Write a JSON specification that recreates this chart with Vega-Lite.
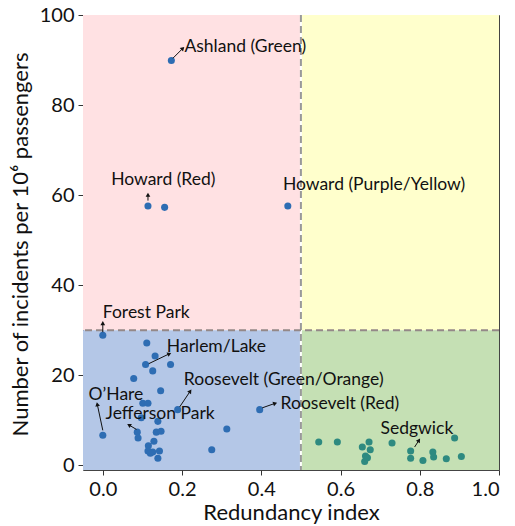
{
  "$schema": "https://vega.github.io/schema/vega-lite/v6.json",
  "width": 416,
  "height": 455,
  "autosize": {"type": "none"},
  "padding": {"left": 83, "top": 15, "right": 16, "bottom": 56},
  "config": {
    "font": "Lato",
    "view": {"stroke": "#444", "strokeWidth": 1},
    "axis": {"grid": false, "domain": false, "tickColor": "#333", "tickSize": 5, "labelColor": "#111", "titleColor": "#111", "labelFont": "Lato", "titleFont": "Lato", "labelFontSize": 20, "titleFontSize": 22, "titleFontWeight": "normal"}
  },
  "resolve": {"scale": {"color": "independent"}},
  "datasets": {
    "regions": [
      {"q": "pink", "x0": -0.05, "x1": 0.5, "y0": 30, "y1": 100},
      {"q": "yellow", "x0": 0.5, "x1": 1.0, "y0": 30, "y1": 100},
      {"q": "blue", "x0": -0.05, "x1": 0.5, "y0": -1, "y1": 30},
      {"q": "green", "x0": 0.5, "x1": 1.0, "y0": -1, "y1": 30}
    ],
    "points": [
      {"x": 0.173, "y": 89.9, "g": "low"},
      {"x": 0.114, "y": 57.6, "g": "low"},
      {"x": 0.156, "y": 57.3, "g": "low"},
      {"x": 0.467, "y": 57.6, "g": "low"},
      {"x": 0.0, "y": 28.9, "g": "low"},
      {"x": 0.111, "y": 27.2, "g": "low"},
      {"x": 0.132, "y": 24.3, "g": "low"},
      {"x": 0.108, "y": 22.4, "g": "low"},
      {"x": 0.171, "y": 22.4, "g": "low"},
      {"x": 0.126, "y": 21.0, "g": "low"},
      {"x": 0.078, "y": 19.3, "g": "low"},
      {"x": 0.146, "y": 16.6, "g": "low"},
      {"x": 0.101, "y": 13.8, "g": "low"},
      {"x": 0.114, "y": 13.8, "g": "low"},
      {"x": 0.189, "y": 12.4, "g": "low"},
      {"x": 0.396, "y": 12.4, "g": "low"},
      {"x": 0.097, "y": 10.6, "g": "low"},
      {"x": 0.139, "y": 9.8, "g": "low"},
      {"x": 0.135, "y": 7.4, "g": "low"},
      {"x": 0.147, "y": 7.6, "g": "low"},
      {"x": 0.0, "y": 6.7, "g": "low"},
      {"x": 0.087, "y": 7.4, "g": "low"},
      {"x": 0.089, "y": 6.1, "g": "low"},
      {"x": 0.313, "y": 8.1, "g": "low"},
      {"x": 0.129, "y": 5.4, "g": "low"},
      {"x": 0.115, "y": 4.4, "g": "low"},
      {"x": 0.114, "y": 3.2, "g": "low"},
      {"x": 0.126, "y": 3.0, "g": "low"},
      {"x": 0.143, "y": 3.2, "g": "low"},
      {"x": 0.139, "y": 1.6, "g": "low"},
      {"x": 0.120, "y": 2.7, "g": "low"},
      {"x": 0.275, "y": 3.5, "g": "low"},
      {"x": 0.545, "y": 5.2, "g": "high"},
      {"x": 0.592, "y": 5.2, "g": "high"},
      {"x": 0.655, "y": 4.1, "g": "high"},
      {"x": 0.672, "y": 5.2, "g": "high"},
      {"x": 0.675, "y": 3.5, "g": "high"},
      {"x": 0.663, "y": 2.1, "g": "high"},
      {"x": 0.661, "y": 0.9, "g": "high"},
      {"x": 0.668, "y": 1.7, "g": "high"},
      {"x": 0.730, "y": 5.0, "g": "high"},
      {"x": 0.777, "y": 3.2, "g": "high"},
      {"x": 0.777, "y": 1.6, "g": "high"},
      {"x": 0.808, "y": 1.1, "g": "high"},
      {"x": 0.833, "y": 3.0, "g": "high"},
      {"x": 0.835, "y": 1.9, "g": "high"},
      {"x": 0.867, "y": 1.5, "g": "high"},
      {"x": 0.888, "y": 6.1, "g": "high"},
      {"x": 0.905, "y": 2.0, "g": "high"}
    ],
    "labels": [
      {"name": "Ashland (Green)", "tx": 0.206, "ty": 93.0, "x": 0.177, "y": 90.4, "x2": 0.202, "y2": 92.6},
      {"name": "Howard (Red)", "tx": 0.021, "ty": 63.3, "x": 0.114, "y": 58.8, "x2": 0.114, "y2": 60.1},
      {"name": "Howard (Purple/Yellow)", "tx": 0.4545, "ty": 62.2},
      {"name": "Forest Park", "tx": 0.0, "ty": 33.9, "x": 0.0, "y": 29.6, "x2": 0.0, "y2": 31.6},
      {"name": "Harlem/Lake", "tx": 0.1616, "ty": 26.3, "x": 0.116, "y": 22.6, "x2": 0.168, "y2": 24.8},
      {"name": "Roosevelt (Green/Orange)", "tx": 0.2045, "ty": 18.9, "x": 0.194, "y": 13.0, "x2": 0.2207, "y2": 16.5},
      {"name": "Roosevelt (Red)", "tx": 0.4487, "ty": 13.7, "x": 0.4025, "y": 12.8, "x2": 0.435, "y2": 13.8},
      {"name": "O’Hare", "tx": -0.036, "ty": 15.6, "x": 0.0, "y": 7.8, "x2": -0.014, "y2": 13.6},
      {"name": "Jefferson Park", "tx": 0.007, "ty": 11.5, "x": 0.085, "y": 8.0, "x2": 0.066, "y2": 9.0},
      {"name": "Sedgwick", "tx": 0.701, "ty": 8.0, "x": 0.787, "y": 4.1, "x2": 0.798, "y2": 5.6}
    ]
  },
  "layer": [
    {
      "data": {"name": "regions"},
      "mark": {"type": "rect"},
      "encoding": {
        "x": {"field": "x0", "type": "quantitative", "scale": {"domain": [-0.05, 1.0], "nice": false, "zero": false}, "axis": {"values": [0, 0.2, 0.4, 0.6, 0.8, 1.0], "format": ".1f", "title": "Redundancy index", "labelPadding": 4, "titleY": 42, "titleBaseline": "middle"}},
        "x2": {"field": "x1"},
        "y": {"field": "y0", "type": "quantitative", "scale": {"domain": [-1, 100], "nice": false, "zero": false}, "axis": {"values": [0, 20, 40, 60, 80, 100], "title": "Number of incidents per 10⁶ passengers", "labelPadding": 4, "titleX": -63, "titleY": 229, "titleBaseline": "middle", "titleAngle": -90, "titleAlign": "center"}},
        "y2": {"field": "y1"},
        "color": {"field": "q", "type": "nominal", "scale": {"domain": ["pink", "yellow", "blue", "green"], "range": ["#ffe1e3", "#ffffcc", "#b4c7e7", "#c5e0b4"]}, "legend": null}
      }
    },
    {
      "data": {"values": [{}]},
      "mark": {"type": "rule", "color": "white", "strokeWidth": 2},
      "encoding": {"x": {"datum": 0.5, "type": "quantitative"}}
    },
    {
      "data": {"values": [{}]},
      "mark": {"type": "rule", "color": "#999", "strokeWidth": 2, "strokeDash": [7, 4]},
      "encoding": {"x": {"datum": 0.5, "type": "quantitative"}}
    },
    {
      "data": {"values": [{}]},
      "mark": {"type": "rule", "color": "#948888", "strokeWidth": 2, "strokeDash": [7, 4]},
      "encoding": {"y": {"datum": 30, "type": "quantitative"}}
    },
    {
      "data": {"name": "points"},
      "mark": {"type": "circle", "size": 50, "opacity": 1},
      "encoding": {
        "x": {"field": "x", "type": "quantitative"},
        "y": {"field": "y", "type": "quantitative"},
        "color": {"field": "g", "type": "nominal", "scale": {"domain": ["low", "high"], "range": ["#2e6db3", "#2e8a80"]}, "legend": null}
      }
    },
    {
      "data": {"name": "labels"},
      "transform": [{"filter": "isValid(datum.x)"}],
      "mark": {"type": "rule", "color": "#111", "strokeWidth": 1},
      "encoding": {
        "x": {"field": "x", "type": "quantitative"},
        "y": {"field": "y", "type": "quantitative"},
        "x2": {"field": "x2"},
        "y2": {"field": "y2"}
      }
    },
    {
      "data": {"name": "labels"},
      "transform": [
        {"filter": "isValid(datum.x)"},
        {"calculate": "atan2((datum.x2 - datum.x) * 396, (datum.y2 - datum.y) * 4.5) * 180 / PI", "as": "ang"}
      ],
      "mark": {"type": "point", "shape": "triangle-up", "filled": true, "color": "#111", "size": 22, "opacity": 1},
      "encoding": {
        "x": {"field": "x2", "type": "quantitative"},
        "y": {"field": "y2", "type": "quantitative"},
        "angle": {"field": "ang", "type": "quantitative", "scale": null}
      }
    },
    {
      "data": {"name": "labels"},
      "mark": {"type": "text", "align": "left", "baseline": "middle", "font": "Lato", "fontSize": 17.5, "color": "#111"},
      "encoding": {
        "x": {"field": "tx", "type": "quantitative"},
        "y": {"field": "ty", "type": "quantitative"},
        "text": {"field": "name"}
      }
    }
  ]
}
